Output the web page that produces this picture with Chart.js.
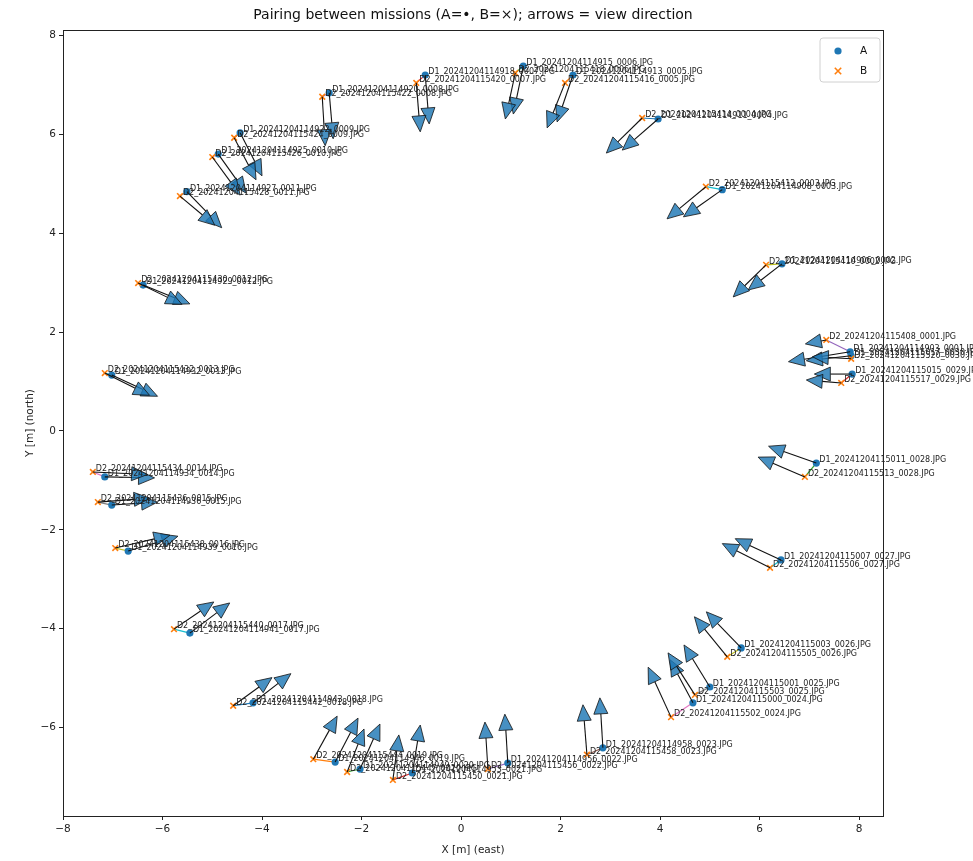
<!DOCTYPE html>
<html><head><meta charset="utf-8">
<script src="https://cdn.jsdelivr.net/npm/chart.js@4.4.0/dist/chart.umd.min.js"></script>
<style>html,body{margin:0;padding:0;background:#fff;}#wrap{width:973px;height:861px;}</style>
</head><body><div id="wrap"><canvas id="c" width="973" height="861"></canvas></div>
<script>
const pairIds = ["0001","0002","0003","0004","0005","0006","0007","0008","0009","0010","0011","0012","0013","0014","0015","0016","0017","0018","0019","0020","0021","0022","0023","0024","0025","0026","0027","0028","0029","0030"];
const aX = [7.82,6.45,5.25,3.96,2.25,1.25,-0.72,-2.65,-4.44,-4.88,-5.51,-6.39,-7.02,-7.16,-7.02,-6.69,-5.45,-4.18,-2.53,-2.03,-0.98,0.94,2.85,4.66,5.00,5.63,6.43,7.14,7.86,7.84];
const aY = [1.60,3.38,4.88,6.31,7.20,7.38,7.20,6.84,6.03,5.60,4.84,2.95,1.13,-0.93,-1.50,-2.43,-4.09,-5.50,-6.70,-6.84,-6.92,-6.72,-6.41,-5.50,-5.18,-4.39,-2.61,-0.65,1.15,1.52];
const bX = [7.34,6.13,4.92,3.64,2.09,1.09,-0.90,-2.79,-4.56,-5.00,-5.65,-6.49,-7.16,-7.40,-7.30,-6.95,-5.77,-4.58,-2.97,-2.29,-1.37,0.54,2.53,4.22,4.70,5.35,6.21,6.91,7.64,7.84];
const bY = [1.84,3.36,4.94,6.33,7.04,7.24,7.04,6.76,5.93,5.54,4.75,2.99,1.17,-0.83,-1.44,-2.37,-4.01,-5.56,-6.64,-6.90,-7.06,-6.84,-6.55,-5.79,-5.34,-4.57,-2.77,-0.93,0.97,1.46];
const aDX = [-1.24,-0.68,-0.78,-0.72,-0.32,-0.20,0.08,0.08,0.44,0.56,0.70,0.94,0.92,1.00,0.92,1.00,0.80,0.76,0.46,0.40,0.16,-0.06,-0.06,-0.46,-0.52,-0.70,-0.92,-0.96,-0.76,-0.90];
const aDY = [-0.20,-0.53,-0.55,-0.63,-0.95,-0.97,-0.99,-0.93,-0.87,-0.79,-0.73,-0.38,-0.43,-0.02,0.06,0.30,0.61,0.59,0.89,0.91,0.97,0.99,1.01,0.87,0.85,0.73,0.43,0.34,0.00,-0.10];
const bDX = [-0.42,-0.66,-0.78,-0.72,-0.36,-0.20,0.08,0.06,0.44,0.56,0.70,0.88,0.90,1.10,1.05,1.10,0.80,0.78,0.48,0.34,0.12,-0.06,-0.08,-0.46,-0.54,-0.66,-0.96,-0.94,-0.70,-0.78];
const bDY = [-0.08,-0.65,-0.65,-0.71,-0.91,-0.93,-0.99,-0.99,-0.85,-0.77,-0.59,-0.43,-0.45,-0.05,0.08,0.26,0.55,0.57,0.87,0.87,0.91,0.95,1.01,1.01,0.85,0.81,0.49,0.40,0.06,0.04];
const aTimes = ["114903","114906","114908","114911","114913","114915","114918","114920","114922","114925","114927","114929","114932","114934","114936","114939","114941","114943","114946","114949","114953","114956","114958","115000","115001","115003","115007","115011","115015","115017"];
const bTimes = ["115408","115410","115412","115414","115416","115418","115420","115422","115424","115426","115428","115430","115432","115434","115436","115438","115440","115442","115444","115447","115450","115456","115458","115502","115503","115505","115506","115513","115517","115520"];
const pairColors = ["#9467bd","#bcbd22","#17becf","#1f77b4","#ff7f0e","#2ca02c","#d62728","#9467bd","#8c564b","#e377c2","#7f7f7f","#bcbd22","#17becf","#e377c2","#7f7f7f","#bcbd22","#17becf","#1f77b4","#ff7f0e","#2ca02c","#d62728","#9467bd","#8c564b","#e377c2","#7f7f7f","#bcbd22","#17becf","#2ca02c","#d62728","#2ca02c"];
const xTicks = [-8,-6,-4,-2,0,2,4,6,8];
const yTicks = [-6,-4,-2,0,2,4,6,8];
const seriesNames = ["A","B"];

const aLabels = pairIds.map((id,i)=>"D1_20241204"+aTimes[i]+"_"+id+".JPG");
const bLabels = pairIds.map((id,i)=>"D2_20241204"+bTimes[i]+"_"+id+".JPG");
const FONT = "'DejaVu Sans', sans-serif";
const fmt = v => v < 0 ? "\u2212" + Math.abs(v) : String(v);

const lineSets = pairIds.map((id,i)=>({
  label: "pair "+id,
  data: [{x:aX[i],y:aY[i]},{x:bX[i],y:bY[i]}],
  showLine: true, borderColor: pairColors[i], borderWidth: 1.2,
  pointRadius: 0, fill: false
}));

const datasets = [
  {label: seriesNames[1], data: bX.map((x,i)=>({x, y:bY[i]})), pointStyle:'crossRot', pointRadius:4, borderColor:'#ff7f0e', backgroundColor:'#ff7f0e', borderWidth:1.6, showLine:false},
  {label: seriesNames[0], data: aX.map((x,i)=>({x, y:aY[i]})), pointStyle:'circle', pointRadius:3.6, backgroundColor:'#1f77b4', borderColor:'#1f77b4', borderWidth:0, showLine:false},
  ...lineSets
];

function drawArrow(ctx, x0, y0, x1, y1) {
  const dx = x1-x0, dy = y1-y0, L = Math.hypot(dx,dy);
  if (L < 0.5) return;
  const ux = dx/L, uy = dy/L, px = -uy, py = ux;
  const hl = Math.min(16, L*0.95), hw = 7;
  const bx = x1 - ux*hl, by = y1 - uy*hl;
  ctx.beginPath(); ctx.moveTo(x0,y0); ctx.lineTo(bx,by);
  ctx.strokeStyle = '#111'; ctx.lineWidth = 1.1; ctx.stroke();
  ctx.beginPath();
  ctx.moveTo(x1,y1); ctx.lineTo(bx+px*hw, by+py*hw); ctx.lineTo(bx-px*hw, by-py*hw); ctx.closePath();
  ctx.fillStyle = 'rgba(31,119,180,0.82)'; ctx.fill();
  ctx.strokeStyle = '#111'; ctx.lineWidth = 0.8; ctx.stroke();
}

const overlay = {
  id: 'overlay',
  afterDatasetsDraw(chart) {
    const {ctx, scales:{x, y}} = chart;
    ctx.save();
    for (let i=0;i<pairIds.length;i++){
      drawArrow(ctx, x.getPixelForValue(aX[i]), y.getPixelForValue(aY[i]), x.getPixelForValue(aX[i]+aDX[i]), y.getPixelForValue(aY[i]+aDY[i]));
      drawArrow(ctx, x.getPixelForValue(bX[i]), y.getPixelForValue(bY[i]), x.getPixelForValue(bX[i]+bDX[i]), y.getPixelForValue(bY[i]+bDY[i]));
    }
    ctx.font = "8px " + FONT; ctx.fillStyle = '#222'; ctx.textAlign = 'left'; ctx.textBaseline = 'middle';
    for (let i=0;i<pairIds.length;i++){
      ctx.fillText(aLabels[i], x.getPixelForValue(aX[i])+3, y.getPixelForValue(aY[i])-3);
      ctx.fillText(bLabels[i], x.getPixelForValue(bX[i])+3, y.getPixelForValue(bY[i])-3);
    }
    ctx.restore();
  },
  afterDraw(chart) {
    const {ctx, chartArea:a} = chart;
    ctx.save();
    ctx.strokeStyle = '#222'; ctx.lineWidth = 1;
    ctx.strokeRect(Math.round(a.left)+0.5, Math.round(a.top)+0.5, Math.round(a.right-a.left), Math.round(a.bottom-a.top));
    const lx = a.right-63, ly = a.top+8, lw = 60, lh = 44;
    ctx.beginPath();
    if (ctx.roundRect) ctx.roundRect(lx, ly, lw, lh, 3); else ctx.rect(lx,ly,lw,lh);
    ctx.fillStyle = 'rgba(255,255,255,0.8)'; ctx.fill();
    ctx.strokeStyle = '#d0d0d0'; ctx.lineWidth = 1; ctx.stroke();
    ctx.beginPath(); ctx.arc(lx+18, ly+13, 3.6, 0, Math.PI*2); ctx.fillStyle = '#1f77b4'; ctx.fill();
    ctx.beginPath(); const cx = lx+18, cy = ly+33, r = 3.2;
    ctx.moveTo(cx-r,cy-r); ctx.lineTo(cx+r,cy+r); ctx.moveTo(cx+r,cy-r); ctx.lineTo(cx-r,cy+r);
    ctx.strokeStyle = '#ff7f0e'; ctx.lineWidth = 1.6; ctx.stroke();
    ctx.font = "10.5px " + FONT; ctx.fillStyle = '#111'; ctx.textBaseline = 'middle'; ctx.textAlign = 'left';
    ctx.fillText(seriesNames[0], lx+40, ly+13);
    ctx.fillText(seriesNames[1], lx+40, ly+33);
    ctx.restore();
  }
};

const axisCommon = {
  type: 'linear',
  grid: {display:true, drawOnChartArea:false, drawTicks:true, tickLength:4, color:'#222', lineWidth:1},
  border: {display:true, color:'#222', width:1},
};

new Chart(document.getElementById('c'), {
  type: 'scatter',
  data: {datasets},
  options: {
    responsive: false, animation: false, devicePixelRatio: 1,
    layout: {padding: {left:0, right:90, top:0, bottom:0}},
    plugins: {
      legend: {display:false}, tooltip: {enabled:false},
      title: {display:true, text:'Pairing between missions (A=\u2022, B=\u00d7); arrows = view direction', fullSize:false,
        color:'#111', font:{family:FONT, size:14, weight:'normal'}, padding:{top:6.6, bottom:6.6}}
    },
    scales: {
      x: {...axisCommon, position:'bottom', min:-8, max:8.48,
        afterBuildTicks: s => { s.ticks = xTicks.map(v=>({value:v})); },
        afterFit: s => { s.height = 45; },
        ticks: {callback: fmt, color:'#222', padding:3, maxRotation:0, font:{family:FONT, size:10.5}},
        title: {display:true, text:'X [m] (east)', color:'#222', font:{family:FONT, size:10.5}, padding:{top:0, bottom:4.7}}
      },
      y: {...axisCommon, position:'left', min:-7.79, max:8.11,
        afterBuildTicks: s => { s.ticks = yTicks.map(v=>({value:v})); },
        afterFit: s => { s.width = 63; },
        ticks: {callback: fmt, color:'#222', padding:3, font:{family:FONT, size:10.5}},
        title: {display:true, text:'Y [m] (north)', color:'#222', font:{family:FONT, size:10.5}, padding:{top:23.7, bottom:0}}
      }
    }
  },
  plugins: [overlay]
});
</script></body></html>
